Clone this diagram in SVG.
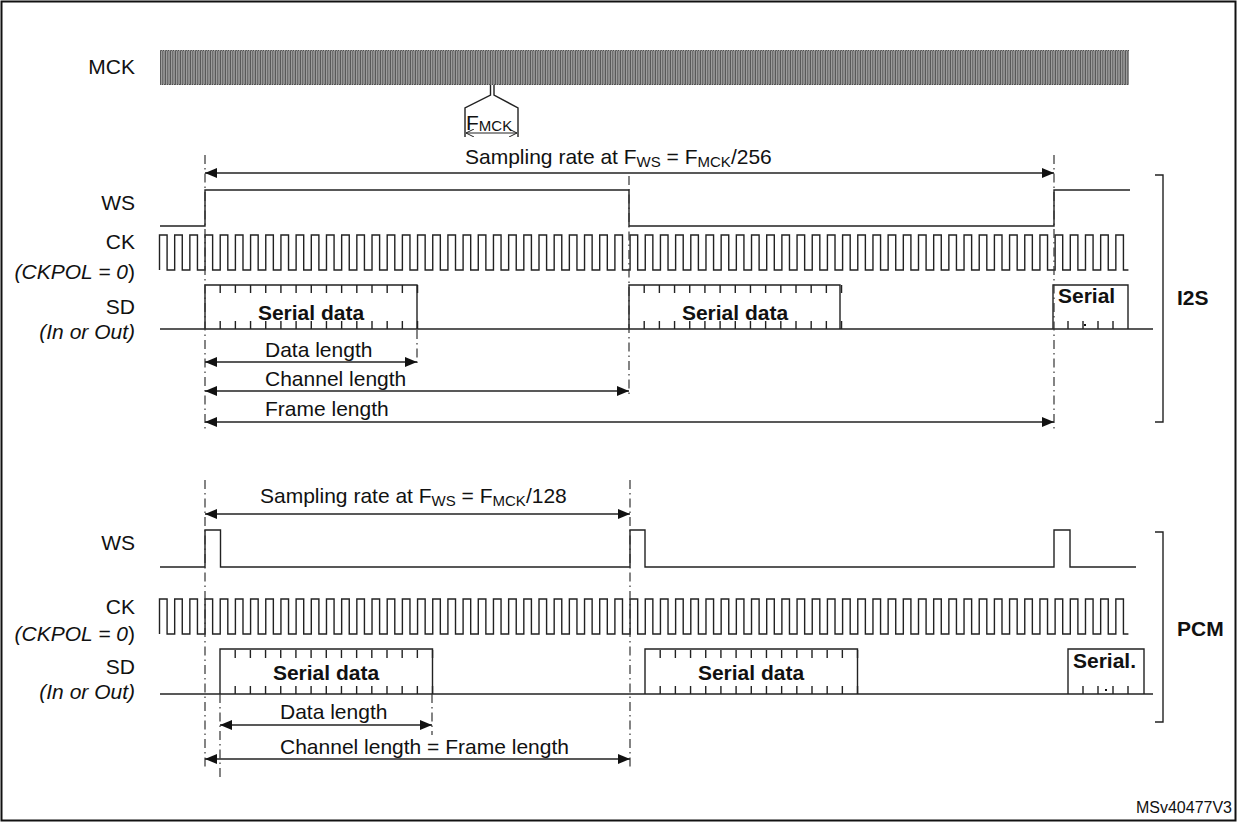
<svg xmlns="http://www.w3.org/2000/svg" xmlns:xlink="http://www.w3.org/1999/xlink" width="1237" height="822" viewBox="0 0 1237 822">
<style>
.w{fill:none;stroke:#222;stroke-width:1.4}
.dd{fill:none;stroke:#333;stroke-width:1.2;stroke-dasharray:9,4,1.5,4}
.t{font-family:"Liberation Sans",Arial,sans-serif;font-size:21px;fill:#111}
.l{font-family:"Liberation Sans",Arial,sans-serif;font-size:21px;fill:#111;text-anchor:end}
.b{font-family:"Liberation Sans",Arial,sans-serif;font-size:21px;font-weight:bold;fill:#111}
.i{font-style:italic}
.ar{fill:none;stroke:#222;stroke-width:1.4;marker-start:url(#ah);marker-end:url(#ah)}
</style>
<defs>
<marker id="ah" viewBox="0 0 12 10" refX="12" refY="5" markerWidth="12" markerHeight="10" markerUnits="userSpaceOnUse" orient="auto-start-reverse"><path d="M0,0L12,5L0,10z" fill="#111"/></marker>
<marker id="oa" viewBox="0 0 8 8" refX="8" refY="4" markerWidth="8" markerHeight="8" markerUnits="userSpaceOnUse" orient="auto-start-reverse"><path d="M0,0L8,4L0,8" fill="none" stroke="#222" stroke-width="1"/></marker>
<pattern id="mck" x="160" y="50" width="2.5" height="35" patternUnits="userSpaceOnUse"><path d="M0.5,35V0.5H1.75V34.5H2.5" fill="none" stroke="#222" stroke-width="0.8"/></pattern>
<path id="ck" class="w" d="M159.5,270
v-35h7.59v35h7.59v-35h7.59v35h7.59v-35h7.59v35h7.59v-35h7.59v35h7.59v-35h7.59v35h7.59v-35h7.59v35h7.59v-35h7.59v35h7.59v-35h7.59v35h7.59
v-35h7.59v35h7.59v-35h7.59v35h7.59v-35h7.59v35h7.59v-35h7.59v35h7.59v-35h7.59v35h7.59v-35h7.59v35h7.59v-35h7.59v35h7.59v-35h7.59v35h7.59
v-35h7.59v35h7.59v-35h7.59v35h7.59v-35h7.59v35h7.59v-35h7.59v35h7.59v-35h7.59v35h7.59v-35h7.59v35h7.59v-35h7.59v35h7.59v-35h7.59v35h7.59
v-35h7.59v35h7.59v-35h7.59v35h7.59v-35h7.59v35h7.59v-35h7.59v35h7.59v-35h7.59v35h7.59v-35h7.59v35h7.59v-35h7.59v35h7.59v-35h7.59v35h7.59
v-35h7.59v35h7.59v-35h7.59v35h7.59v-35h7.59v35h7.59v-35h7.59v35h7.59v-35h7.59v35h7.59v-35h7.59v35h7.59v-35h7.59v35h7.59v-35h7.59v35h7.59
v-35h7.59v35h7.59v-35h7.59v35h7.59v-35h7.59v35h7.59v-35h7.59v35h7.59v-35h7.59v35h7.59v-35h7.59v35h7.59v-35h7.59v35h7.59v-35h7.59v35h7.59
v-35h7.59v35h7.59v-35h7.59v35h7.59v-35h7.59v35h7.59v-35h7.59v35h7.59v-35h7.59v35h7.59v-35h7.59v35h7.59v-35h7.59v35h7.59v-35h7.59v35h7.59
v-35h7.59v35h7.59v-35h7.59v35h7.59v-35h7.59v35h7.59v-35h7.59v35h7.59v-35h7.59v35h7.59v-35h7.59v35h7.59v-35h7.59v35h7.59v-35h7.59v35h5"/>
<path id="tk" class="w" d="M0,0v8m0,28v8m15.18,-44v8m0,28v8m15.18,-44v8m0,28v8m15.18,-44v8m0,28v8m15.18,-44v8m0,28v8m15.18,-44v8m0,28v8m15.18,-44v8m0,28v8m15.18,-44v8m0,28v8m15.18,-44v8m0,28v8m15.18,-44v8m0,28v8m15.18,-44v8m0,28v8m15.18,-44v8m0,28v8m15.18,-44v8m0,28v8m15.18,-44v8m0,28v8"/>
</defs>
<rect x="1.5" y="1.5" width="1234" height="819" fill="#fff" stroke="#111" stroke-width="2"/>

<g id="labels">
<text class="l" x="135" y="74">MCK</text>
<text class="l" x="135" y="210">WS</text>
<text class="l" x="135" y="249">CK</text>
<text class="l" x="135" y="279"><tspan class="i">(CKPOL = 0</tspan>)</text>
<text class="l" x="135" y="314">SD</text>
<text class="l i" x="135" y="339">(In or Out)</text>
<text class="l" x="135" y="550">WS</text>
<text class="l" x="135" y="614">CK</text>
<text class="l" x="135" y="641"><tspan class="i">(CKPOL = 0</tspan>)</text>
<text class="l" x="135" y="674">SD</text>
<text class="l i" x="135" y="699">(In or Out)</text>
<text class="b" x="1177" y="305">I2S</text>
<text class="b" x="1177" y="636">PCM</text>
<text class="t" x="1232" y="813" style="font-size:16px;text-anchor:end">MSv40477V3</text>
</g>

<g id="mck-signal">
<rect x="160" y="50" width="969" height="35" fill="url(#mck)"/>
<path class="w" d="M490.5,85v10L465,108v29M494,85v10L518,108v29"/>
<path fill="none" stroke="#222" stroke-width="1" marker-start="url(#oa)" marker-end="url(#oa)" d="M466,133H517"/>
<text class="t" x="466" y="130">F<tspan font-size="15" dy="1">MCK</tspan></text>
</g>

<g id="i2s">
<path class="w" d="M160,226H205V190H629V226H1054V190H1130"/>
<use xlink:href="#ck"/>
<path class="w" d="M160,329H1153"/>
<path class="w" d="M205,329V285H417V329M629,329V285H840V329M1053,329V285H1128V329"/>
<use xlink:href="#tk" x="220.2" y="285"/>
<use xlink:href="#tk" x="644.2" y="285"/>
<path class="w" d="M1068,321v8M1083,321v8M1098,321v8M1113,321v8"/>
<rect x="1084" y="324" width="2" height="2" fill="#111"/>
<text class="b" x="311" y="320" text-anchor="middle">Serial data</text>
<text class="b" x="735" y="320" text-anchor="middle">Serial data</text>
<text class="b" x="1058" y="303">Serial</text>
<path class="w" d="M1155,175H1163V422H1155"/>
</g>

<g id="pcm">
<path class="w" d="M160,567H205V530H220.5V567H630V530H645V567H1054V530H1070V567H1136"/>
<use xlink:href="#ck" y="364"/>
<path class="w" d="M160,694H1153"/>
<path class="w" d="M220,694V649H432.5V694M645,694V649H857.5V694M1068,694V649H1144V694"/>
<use xlink:href="#tk" x="235.2" y="650"/>
<use xlink:href="#tk" x="660.2" y="650"/>
<path class="w" d="M1083,686v8M1098,686v8M1113,686v8M1128,686v8"/>
<rect x="1105" y="689" width="2" height="2" fill="#111"/>
<text class="b" x="326" y="680" text-anchor="middle">Serial data</text>
<text class="b" x="751" y="680" text-anchor="middle">Serial data</text>
<text class="b" x="1073" y="668">Serial.</text>
<path class="w" d="M1155,532H1163V722H1155"/>
</g>

<g id="connectors">
<path class="dd" d="M205,155V432M1054,155V432M629,176V398M417,330V366"/>
<path class="dd" d="M205,480V770M630,480V770M220,694V780M432,694V735"/>
<path class="ar" d="M205,173H1054"/>
<path class="ar" d="M205,362H417"/>
<path class="ar" d="M205,391H629"/>
<path class="ar" d="M205,422H1054"/>
<path class="ar" d="M205,514H630"/>
<path class="ar" d="M220,725H432"/>
<path class="ar" d="M205,759H630"/>
</g>

<g id="dim-labels">
<text class="t" x="465" y="164">Sampling rate at F<tspan font-size="15" dy="3">WS</tspan><tspan dy="-3"> = F</tspan><tspan font-size="15" dy="3">MCK</tspan><tspan dy="-3">/256</tspan></text>
<text class="t" x="260" y="503">Sampling rate at F<tspan font-size="15" dy="3">WS</tspan><tspan dy="-3"> = F</tspan><tspan font-size="15" dy="3">MCK</tspan><tspan dy="-3">/128</tspan></text>
<text class="t" x="265" y="357">Data length</text>
<text class="t" x="265" y="386">Channel length</text>
<text class="t" x="265" y="416">Frame length</text>
<text class="t" x="280" y="719">Data length</text>
<text class="t" x="280" y="754">Channel length = Frame length</text>
</g>
</svg>
